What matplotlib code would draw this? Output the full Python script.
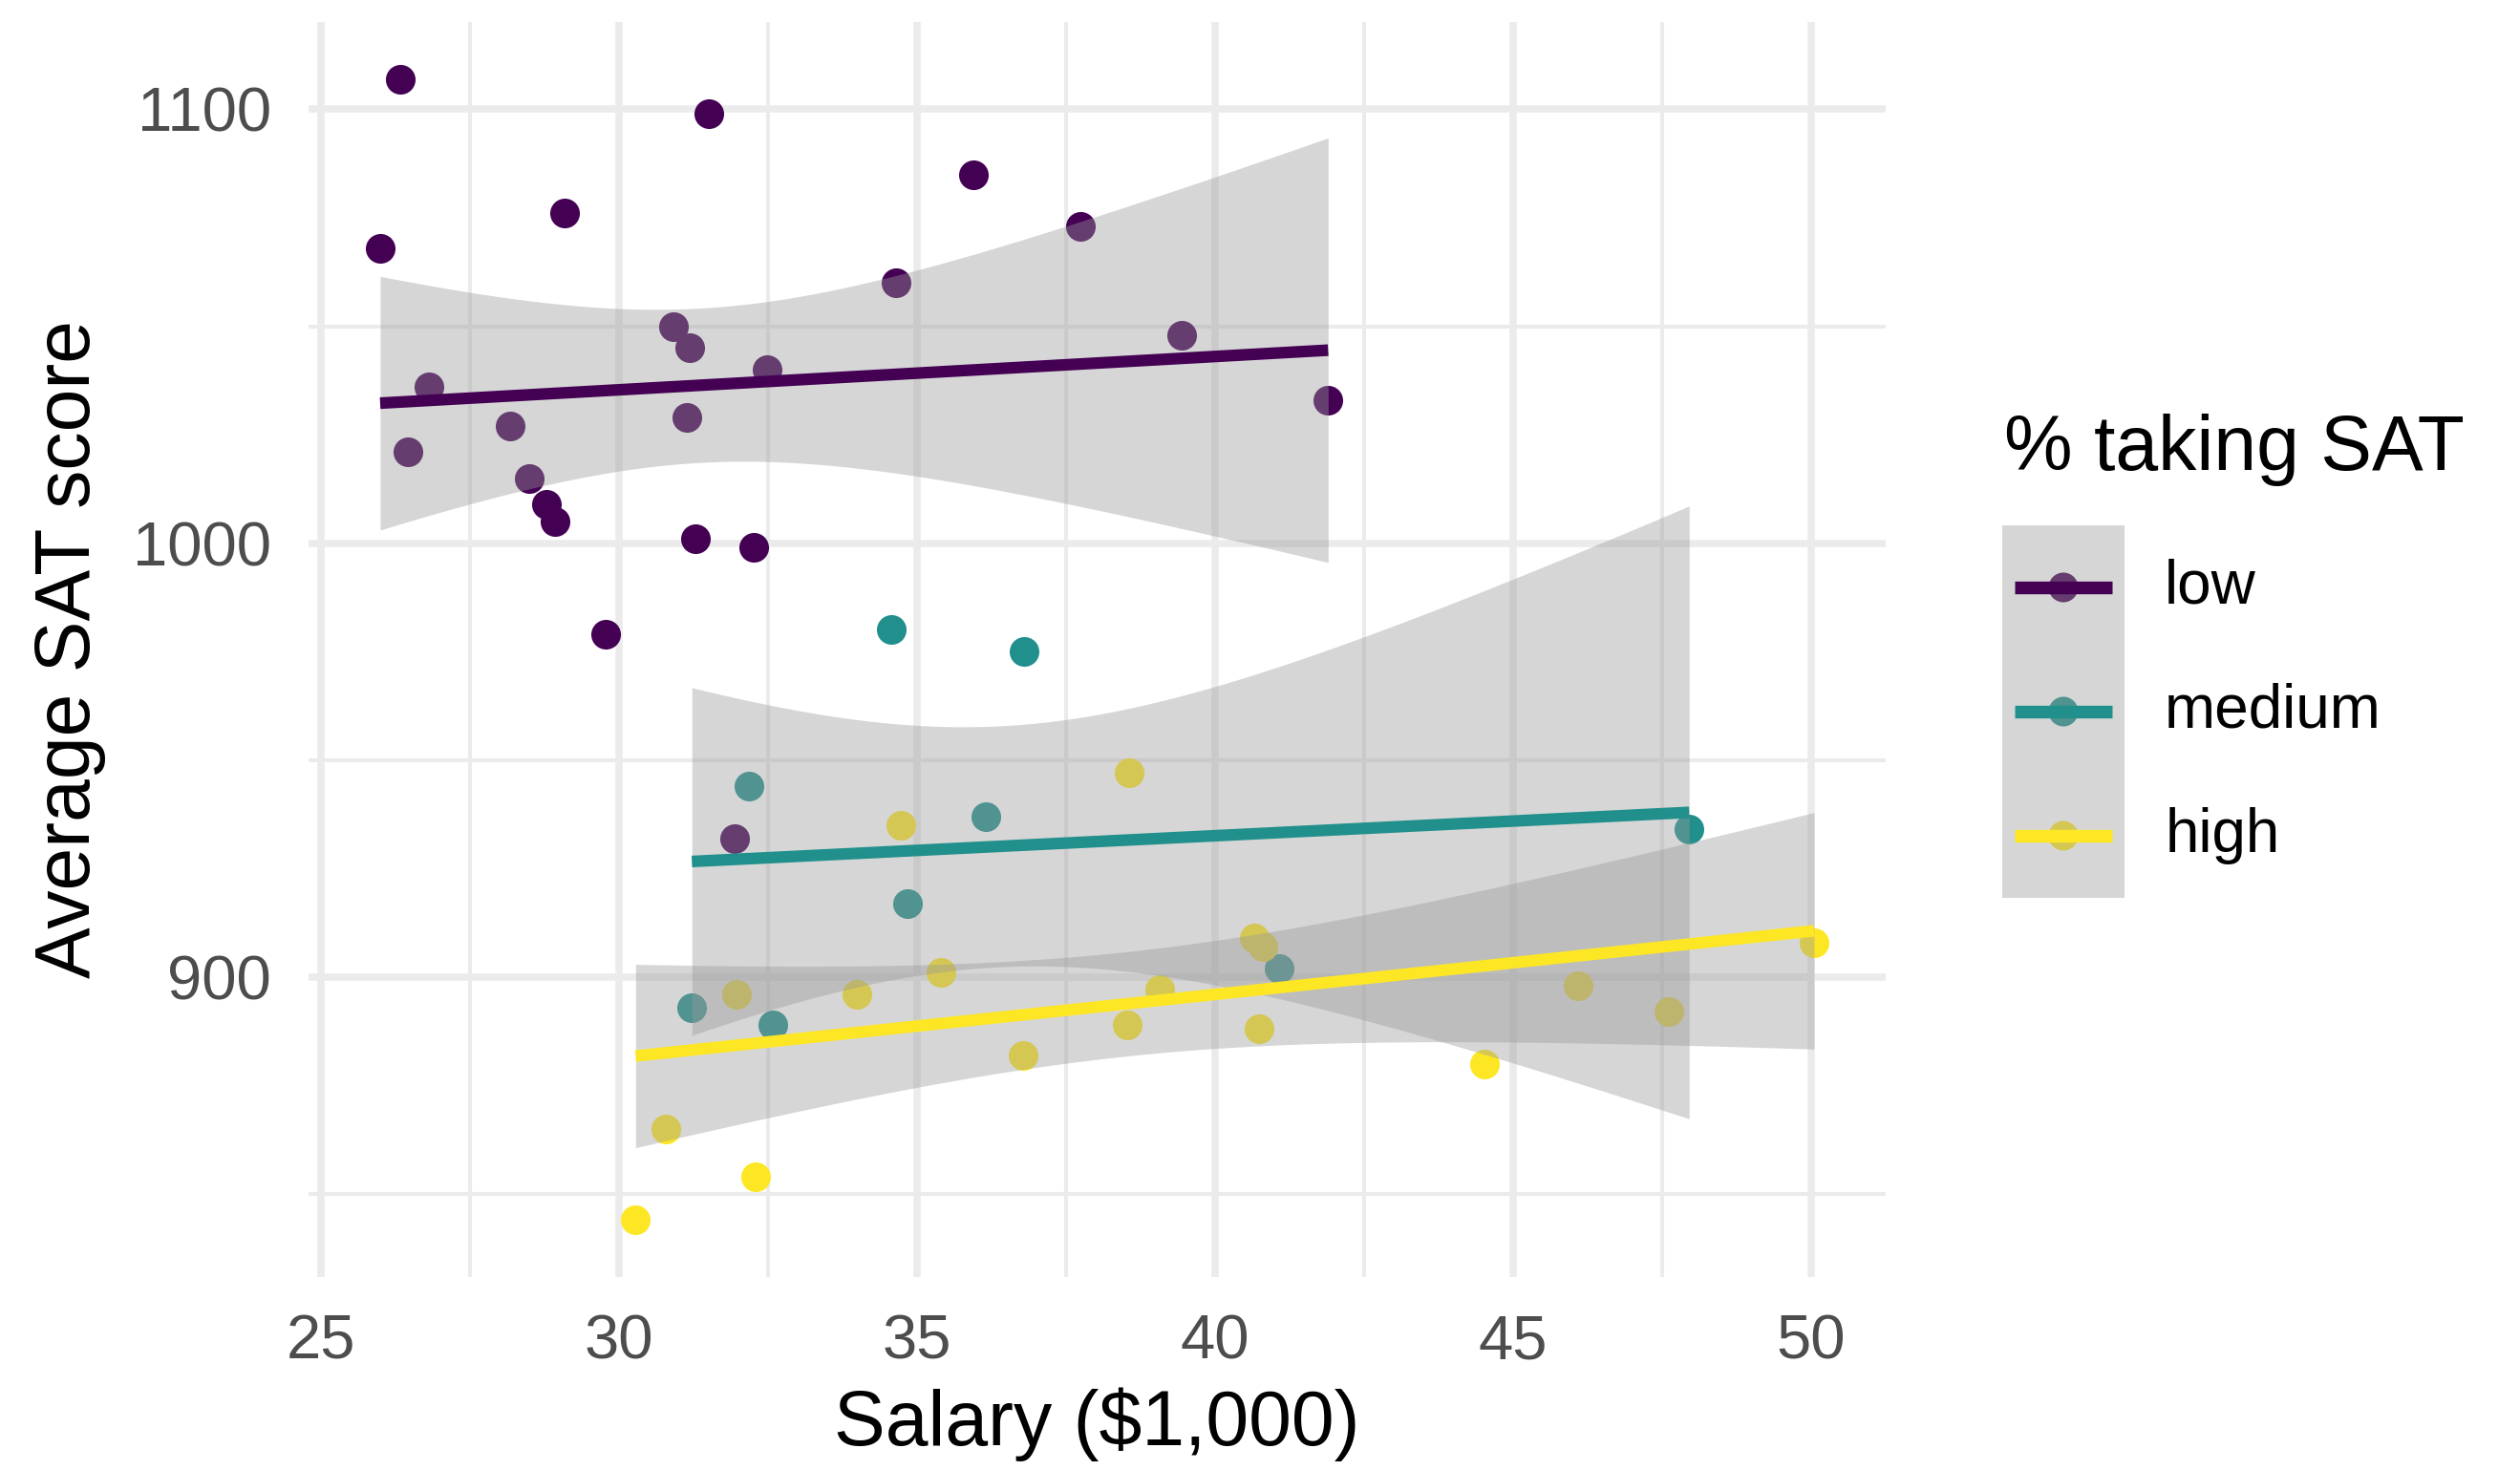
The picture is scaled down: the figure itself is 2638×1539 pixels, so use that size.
#!/usr/bin/env python
# -*- coding: utf-8 -*-
'''
SAT score vs. teacher salary by share of students taking the SAT
(linear fits with 95% confidence bands per group)
'''
import matplotlib.pyplot as plt
import numpy as np

plt.rcParams['font.family'] = ['Liberation Sans', 'DejaVu Sans']

#======================================================================|
# Data (one entry per state)

salary = [31.144, 47.951, 32.175, 28.934, 41.078, 34.571, 50.045, 39.076,
          32.588, 32.291, 38.518, 29.783, 39.431, 36.785, 31.511, 34.652,
          32.257, 26.461, 31.972, 40.661, 40.795, 41.895, 35.948, 26.818,
          31.189, 28.785, 30.922, 34.836, 34.720, 46.087, 28.493, 47.612,
          30.793, 26.327, 36.802, 28.172, 38.555, 44.510, 40.729, 30.279,
          25.994, 32.477, 31.223, 29.082, 35.406, 33.987, 36.151, 31.944,
          37.746, 31.285]
frac = [8, 47, 27, 6, 45, 29, 81, 68, 48, 65, 57, 15, 13, 58, 5, 9, 11, 9,
        68, 64, 80, 11, 9, 4, 9, 21, 9, 30, 70, 70, 11, 74, 60, 5, 23, 9,
        51, 70, 70, 58, 5, 12, 47, 4, 68, 65, 48, 17, 9, 10]
sat = [1029, 934, 944, 1005, 902, 980, 908, 897, 889, 854, 889, 979, 1048,
       882, 1099, 1060, 999, 1021, 896, 909, 907, 1033, 1085, 1036, 1045,
       1009, 1050, 917, 935, 898, 1015, 892, 865, 1107, 975, 1027, 947, 880,
       888, 844, 1068, 1040, 893, 1076, 901, 896, 937, 932, 1073, 1001]

groups = ['low', 'medium', 'high']
frac_breaks = [22, 49]
colors = ['#440154', '#21908C', '#FDE725']
t975 = {7: 2.3646, 16: 2.1199, 21: 2.0796}   # t quantiles by df

salary = np.array(salary)
frac = np.array(frac)
sat = np.array(sat)
grp = np.digitize(frac, frac_breaks)

#======================================================================|
# Linear fits

fits = []
for g in range(len(groups)):
    m = grp == g
    x, y = salary[m], sat[m]
    n = len(x)
    b, a = np.polyfit(x, y, 1)
    xs = np.linspace(x.min(), x.max(), 80)
    yhat = a + b * xs
    s = np.sqrt(np.sum((y - (a + b * x))**2) / (n - 2))
    se = s * np.sqrt(1. / n + (xs - x.mean())**2 / np.sum((x - x.mean())**2))
    fits.append((xs, yhat, t975[n - 2] * se))

#======================================================================|
# Plot

fig = plt.figure(figsize=(13.19, 7.695), dpi=200)
ax = fig.add_axes([0.1224, 0.1313, 0.6259, 0.8538])

for g in range(len(groups)):
    m = grp == g
    ax.scatter(salary[m], sat[m], s=125, color=colors[g], lw=0, zorder=2)

for g, (xs, yhat, ci) in enumerate(fits):
    ax.fill_between(xs, yhat - ci, yhat + ci, color='#999999', alpha=0.4,
                    lw=0, zorder=3 + 2 * g)
    ax.plot(xs, yhat, color=colors[g], lw=4.4, zorder=4 + 2 * g,
            solid_capstyle='butt')

# limits with 5% expansion (ribbons included)
xlo, xhi = salary.min(), salary.max()
ylo = min(sat.min(), min((f[1] - f[2]).min() for f in fits))
yhi = max(sat.max(), max((f[1] + f[2]).max() for f in fits))
ax.set_xlim(xlo - 0.05 * (xhi - xlo), xhi + 0.05 * (xhi - xlo))
ax.set_ylim(ylo - 0.05 * (yhi - ylo), yhi + 0.05 * (yhi - ylo))

ax.set_xticks(np.arange(25, 51, 5))
ax.set_xticks(np.arange(27.5, 50, 5), minor=True)
ax.set_yticks([900, 1000, 1100])
ax.set_yticks([850, 950, 1050], minor=True)

ax.set_axisbelow(True)
ax.grid(which='major', color='#EBEBEB', lw=2.7)
ax.grid(which='minor', color='#EBEBEB', lw=1.45)
for sp in ax.spines.values():
    sp.set_visible(False)
ax.tick_params(which='both', length=0, pad=14, labelsize=23.5,
               labelcolor='#4D4D4D')

ax.set_xlabel('Salary ($1,000)', fontsize=29, labelpad=6)
ax.set_ylabel('Average SAT score', fontsize=29, labelpad=10)

#----------------------------------------------------------------------|
# Legend

lax = fig.add_axes([2096 / 2638, 1 - 940 / 1539, 128 / 2638, 390 / 1539])
lax.set_xlim(0, 1)
lax.set_ylim(0, 3)
lax.axis('off')
rows = [2.5, 1.5, 0.5]
lax.scatter([0.5] * 3, rows, s=125, color=colors, lw=0, zorder=1)
lax.fill_between([0, 1], 0, 3, color='#999999', alpha=0.4, lw=0, zorder=2)
for r, c, lab in zip(rows, colors, groups):
    lax.plot([0.1, 0.9], [r, r], color=c, lw=4.8, zorder=3,
             solid_capstyle='butt')
    lax.text(1.33, r, lab, va='center', ha='left', fontsize=23)
fig.text(2098 / 2638, 1 - 471 / 1539, '% taking SAT', fontsize=29,
         va='center', ha='left')

fig.savefig('out.png', dpi=200)
